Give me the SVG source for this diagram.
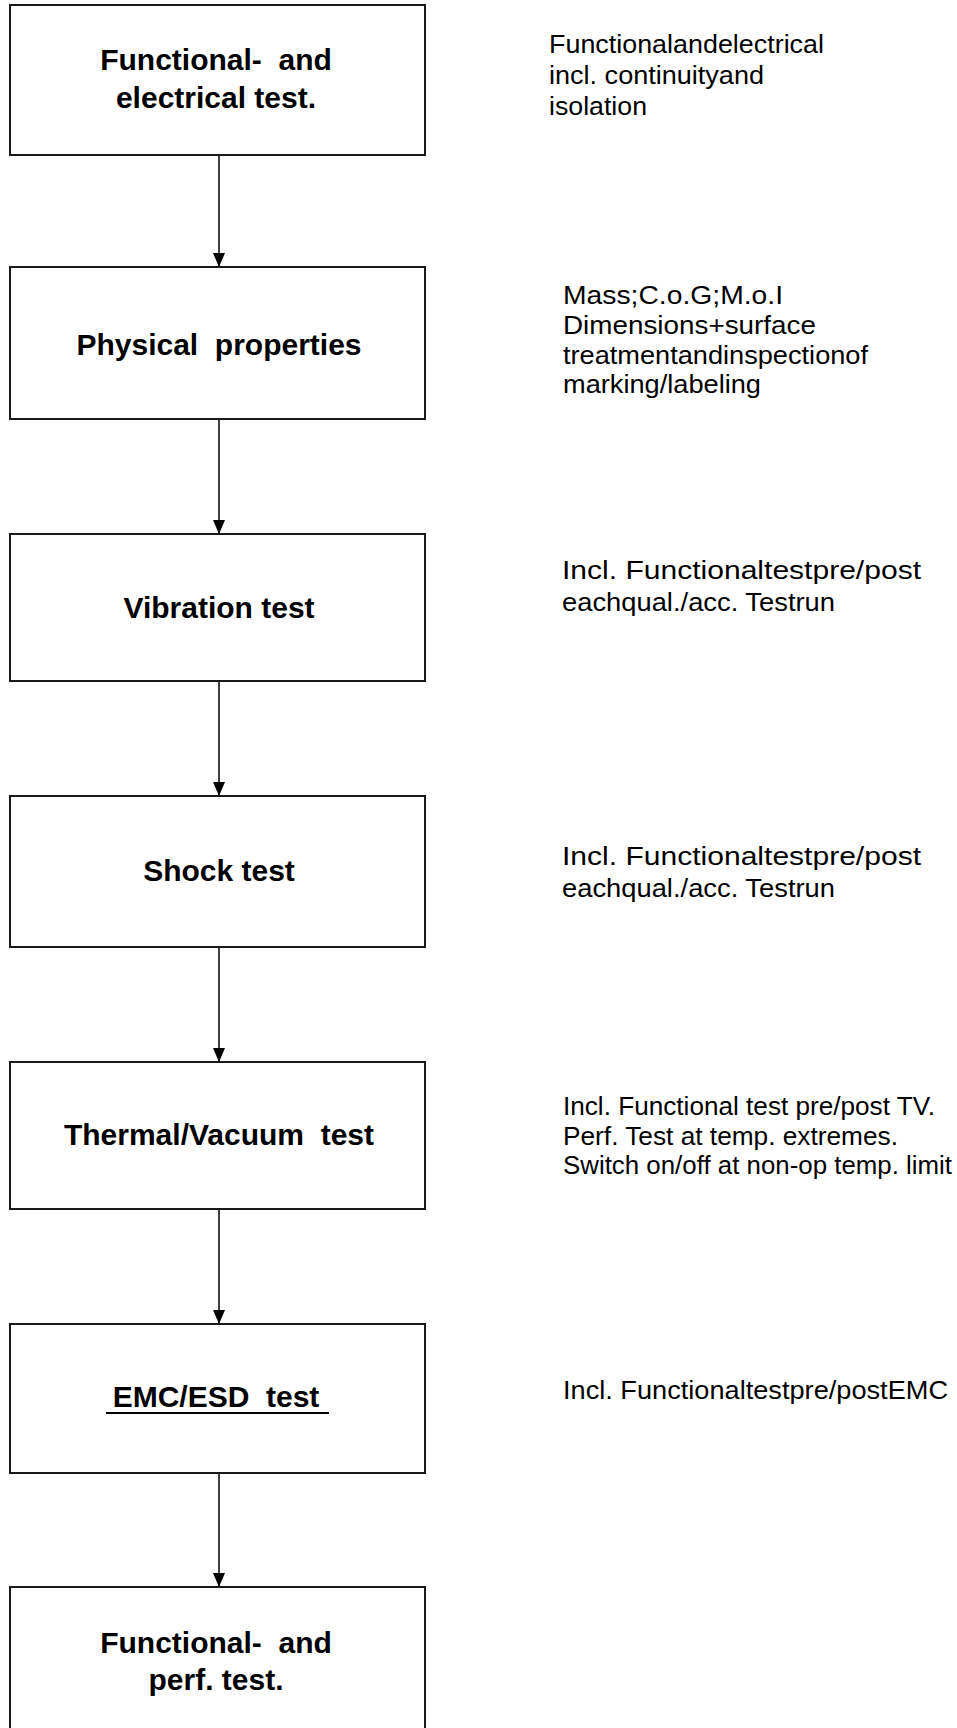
<svg xmlns="http://www.w3.org/2000/svg" width="957" height="1728" viewBox="0 0 957 1728">
  <style>
    .box { fill: #ffffff; stroke: #1a1a1a; stroke-width: 2; }
    .title { font-family: "Liberation Sans", Arial, sans-serif; font-size: 30px; font-weight: bold; fill: #000; text-anchor: middle; }
    .note { font-family: "Liberation Sans", Arial, sans-serif; font-size: 26px; fill: #000; }
    .link { stroke: #000; stroke-width: 1.5; fill: none; marker-end: url(#arrow); }
  </style>
  <defs>
    <!-- filled triangular arrowhead, tip at the end of the line -->
    <marker id="arrow" viewBox="0 0 14 12" refX="14" refY="6" markerWidth="14" markerHeight="12" markerUnits="userSpaceOnUse" orient="auto">
      <path d="M0,0 L14,6 L0,12 Z" fill="#000"/>
    </marker>
  </defs>
  <rect width="957" height="1728" fill="#ffffff"/>

  <!-- test sequence connectors -->
  <g id="connectors">
    <line class="link" x1="219" y1="155" x2="219" y2="267"/>
    <line class="link" x1="219" y1="419" x2="219" y2="534"/>
    <line class="link" x1="219" y1="681" x2="219" y2="796"/>
    <line class="link" x1="219" y1="947" x2="219" y2="1062"/>
    <line class="link" x1="219" y1="1209" x2="219" y2="1324"/>
    <line class="link" x1="219" y1="1473" x2="219" y2="1587"/>
  </g>

  <g id="functional-electrical">
    <rect class="box" x="10" y="5" width="415" height="150"/>
    <text class="title" x="216" y="70" xml:space="preserve">Functional-  and</text>
    <text class="title" x="216" y="108">electrical test.</text>
    <text class="note" x="549" y="53" textLength="275" lengthAdjust="spacingAndGlyphs">Functionalandelectrical</text>
    <text class="note" x="549" y="84" textLength="215" lengthAdjust="spacingAndGlyphs">incl. continuityand</text>
    <text class="note" x="549" y="115" textLength="98" lengthAdjust="spacingAndGlyphs">isolation</text>
  </g>

  <g id="physical-properties">
    <rect class="box" x="10" y="267" width="415" height="152"/>
    <text class="title" x="219" y="355" xml:space="preserve">Physical  properties</text>
    <text class="note" x="563" y="304" textLength="220" lengthAdjust="spacingAndGlyphs">Mass;C.o.G;M.o.I</text>
    <text class="note" x="563" y="334" textLength="253" lengthAdjust="spacingAndGlyphs">Dimensions+surface</text>
    <text class="note" x="563" y="364" textLength="305" lengthAdjust="spacingAndGlyphs">treatmentandinspectionof</text>
    <text class="note" x="563" y="393" textLength="198" lengthAdjust="spacingAndGlyphs">marking/labeling</text>
  </g>

  <g id="vibration">
    <rect class="box" x="10" y="534" width="415" height="147"/>
    <text class="title" x="219" y="618">Vibration test</text>
    <text class="note" x="562" y="579" textLength="359" lengthAdjust="spacingAndGlyphs">Incl. Functionaltestpre/post</text>
    <text class="note" x="562" y="611" textLength="273" lengthAdjust="spacingAndGlyphs">eachqual./acc. Testrun</text>
  </g>

  <g id="shock">
    <rect class="box" x="10" y="796" width="415" height="151"/>
    <text class="title" x="219" y="881">Shock test</text>
    <text class="note" x="562" y="865" textLength="359" lengthAdjust="spacingAndGlyphs">Incl. Functionaltestpre/post</text>
    <text class="note" x="562" y="897" textLength="273" lengthAdjust="spacingAndGlyphs">eachqual./acc. Testrun</text>
  </g>

  <g id="thermal-vacuum">
    <rect class="box" x="10" y="1062" width="415" height="147"/>
    <text class="title" x="219" y="1145" xml:space="preserve">Thermal/Vacuum  test</text>
    <text class="note" x="563" y="1115" textLength="372" lengthAdjust="spacingAndGlyphs">Incl. Functional test pre/post TV.</text>
    <text class="note" x="563" y="1145" textLength="335" lengthAdjust="spacingAndGlyphs">Perf. Test at temp. extremes.</text>
    <text class="note" x="563" y="1174" textLength="389" lengthAdjust="spacingAndGlyphs">Switch on/off at non-op temp. limit</text>
  </g>

  <g id="emc-esd">
    <rect class="box" x="10" y="1324" width="415" height="149"/>
    <text class="title" x="216" y="1407" xml:space="preserve">EMC/ESD  test</text>
    <line x1="106" y1="1413" x2="329" y2="1413" stroke="#000" stroke-width="2.2"/>
    <text class="note" x="563" y="1399" textLength="385" lengthAdjust="spacingAndGlyphs">Incl. Functionaltestpre/postEMC</text>
  </g>

  <g id="functional-performance">
    <rect class="box" x="10" y="1587" width="415" height="160"/>
    <text class="title" x="216" y="1653" xml:space="preserve">Functional-  and</text>
    <text class="title" x="216" y="1690">perf. test.</text>
  </g>
</svg>
